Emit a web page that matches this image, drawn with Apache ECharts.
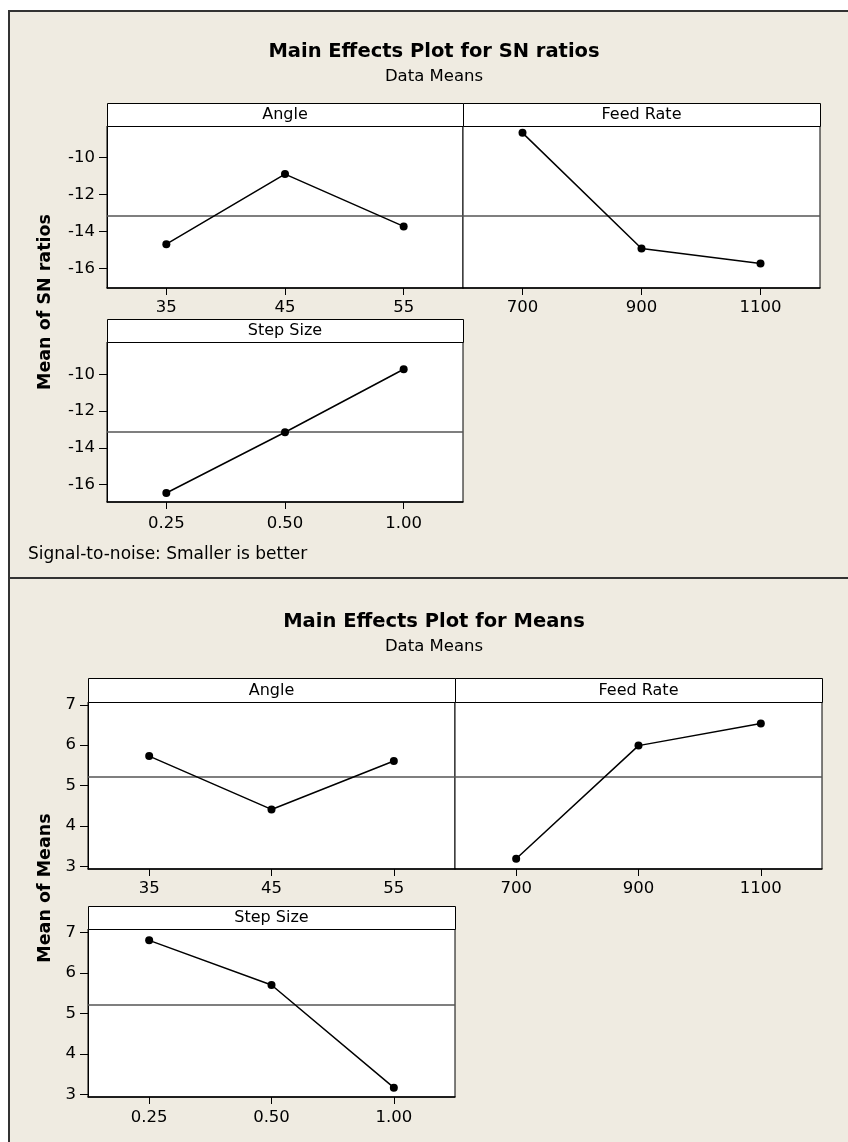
<!DOCTYPE html>
<html><head><meta charset="utf-8">
<script src="https://cdn.jsdelivr.net/npm/echarts@6/dist/echarts.min.js"></script>
<style>html,body{margin:0;padding:0;background:#fff;} #c{width:848px;height:1142px;}</style>
</head><body><div id="c"></div>
<script>
// ---- data ----
const angleLevels = ['35', '45', '55'];
const feedLevels = ['700', '900', '1100'];
const stepLevels = ['0.25', '0.50', '1.00'];
const snAngle = [-14.69, -10.90, -13.73];
const snFeed = [-8.67, -14.92, -15.73];
const snStep = [-16.45, -13.15, -9.73];
const snMean = [-13.15];
const meansAngle = [5.73, 4.41, 5.61];
const meansFeed = [3.19, 5.99, 6.54];
const meansStep = [6.80, 5.70, 3.17];
const meansMean = [5.21];
const snTicks = [-16, -14, -12, -10];
const meansTicks = [3, 4, 5, 6, 7];
const factorNames = ['Angle', 'Feed Rate', 'Step Size'];

const FONT = 'DejaVu Sans';
const BG = '#EFEBE1';

const panels = [
  {g: {left: 107, top: 126, width: 356, height: 162}, hTop: 103, cats: angleLevels, vals: snAngle, ymin: -17.06, ymax: -8.3, ticks: snTicks, mean: snMean[0], showY: true, name: factorNames[0], lm: 11},
  {g: {left: 463, top: 126, width: 357, height: 162}, hTop: 103, cats: feedLevels, vals: snFeed, ymin: -17.06, ymax: -8.3, ticks: snTicks, mean: snMean[0], showY: false, name: factorNames[1], lm: 11},
  {g: {left: 107, top: 342, width: 356, height: 160}, hTop: 319, cats: stepLevels, vals: snStep, ymin: -16.94, ymax: -8.25, ticks: snTicks, mean: snMean[0], showY: true, name: factorNames[2], lm: 13},
  {g: {left: 88, top: 702, width: 367, height: 167}, hTop: 678, cats: angleLevels, vals: meansAngle, ymin: 2.935, ymax: 7.07, ticks: meansTicks, mean: meansMean[0], showY: true, name: factorNames[0], lm: 11},
  {g: {left: 455, top: 702, width: 367, height: 167}, hTop: 678, cats: feedLevels, vals: meansFeed, ymin: 2.935, ymax: 7.07, ticks: meansTicks, mean: meansMean[0], showY: false, name: factorNames[1], lm: 11},
  {g: {left: 88, top: 929, width: 367, height: 168}, hTop: 906, cats: stepLevels, vals: meansStep, ymin: 2.94, ymax: 7.08, ticks: meansTicks, mean: meansMean[0], showY: true, name: factorNames[2], lm: 12}
];

const grid = [], xAxis = [], yAxis = [], series = [], graphics = [];

// white margins outside frames and frame lines
graphics.push({type: 'rect', shape: {x: 0, y: 0, width: 848, height: 10}, style: {fill: '#fff'}, z: 50});
graphics.push({type: 'rect', shape: {x: 0, y: 0, width: 8, height: 1142}, style: {fill: '#fff'}, z: 50});
graphics.push({type: 'polyline', shape: {points: [[848, 11], [9, 11], [9, 578], [848, 578]]}, style: {stroke: '#333', lineWidth: 2, fill: null}, z: 51});
graphics.push({type: 'polyline', shape: {points: [[9, 578], [9, 1142]]}, style: {stroke: '#333', lineWidth: 2, fill: null}, z: 51});

// titles
const titles = [
  {t: 'Main Effects Plot for SN ratios', y: 52, sy: 77},
  {t: 'Main Effects Plot for Means', y: 622, sy: 647}
];
titles.forEach(function (o) {
  graphics.push({type: 'text', x: 434, y: o.y, style: {text: o.t, font: 'bold 19.5px "' + FONT + '"', fill: '#000', textAlign: 'center', textVerticalAlign: 'middle'}, z: 60});
  graphics.push({type: 'text', x: 434, y: o.sy, style: {text: 'Data Means', font: '16.5px "' + FONT + '"', fill: '#000', textAlign: 'center', textVerticalAlign: 'middle'}, z: 60});
});

// y-axis titles
graphics.push({type: 'text', x: 45, y: 302, rotation: Math.PI / 2, style: {text: 'Mean of SN ratios', font: 'bold 17.5px "' + FONT + '"', fill: '#000', textAlign: 'center', textVerticalAlign: 'middle'}, z: 60});
graphics.push({type: 'text', x: 45, y: 888, rotation: Math.PI / 2, style: {text: 'Mean of Means', font: 'bold 17.5px "' + FONT + '"', fill: '#000', textAlign: 'center', textVerticalAlign: 'middle'}, z: 60});

// footnote
graphics.push({type: 'text', x: 28, y: 555, style: {text: 'Signal-to-noise: Smaller is better', font: '17px "' + FONT + '"', fill: '#000', textAlign: 'left', textVerticalAlign: 'middle'}, z: 60});

panels.forEach(function (p, i) {
  grid.push(Object.assign({show: true, backgroundColor: '#fff', borderColor: '#000', borderWidth: 1, containLabel: false}, p.g));
  xAxis.push({
    gridIndex: i, type: 'category', data: p.cats, boundaryGap: true,
    axisLine: {show: true, lineStyle: {color: '#000', width: 1.5}},
    axisTick: {show: true, alignWithLabel: true, length: 7, lineStyle: {color: '#000', width: 1}},
    axisLabel: {color: '#000', fontSize: 16.5, fontFamily: FONT, margin: p.lm},
    splitLine: {show: false}
  });
  yAxis.push({
    gridIndex: i, type: 'value', min: p.ymin, max: p.ymax,
    axisLine: {show: p.showY, lineStyle: {color: '#000', width: 1}},
    axisTick: {show: p.showY, length: 8, customValues: p.ticks, lineStyle: {color: '#000', width: 1}},
    axisLabel: {show: p.showY, customValues: p.ticks, color: '#000', fontSize: 16.5, fontFamily: FONT, margin: 12},
    splitLine: {show: false}
  });
  series.push({
    type: 'line', xAxisIndex: i, yAxisIndex: i, data: p.vals,
    symbol: 'circle', symbolSize: 8, showSymbol: true,
    lineStyle: {color: '#000', width: 1.5},
    itemStyle: {color: '#000'},
    markLine: {silent: true, symbol: 'none', label: {show: false}, animation: false,
      lineStyle: {color: '#555', type: 'solid', width: 1.5}, data: [{yAxis: p.mean}]},
    z: 5
  });
  // header strip
  const hx = p.g.left + 0.5, hy = p.hTop + 0.5;
  graphics.push({type: 'rect', shape: {x: hx, y: hy, width: p.g.width, height: p.g.top - p.hTop}, style: {fill: '#fff', stroke: '#000', lineWidth: 1}, z: 40});
  graphics.push({type: 'text', x: p.g.left + p.g.width / 2, y: p.hTop + (p.g.top - p.hTop) / 2 + 0.5, style: {text: p.name, font: '16px "' + FONT + '"', fill: '#000', textAlign: 'center', textVerticalAlign: 'middle'}, z: 41});
});

const chart = echarts.init(document.getElementById('c'), null, {renderer: 'canvas'});
chart.setOption({
  backgroundColor: BG,
  animation: false,
  grid: grid, xAxis: xAxis, yAxis: yAxis, series: series,
  graphic: {elements: graphics}
});
</script>
</body></html>
